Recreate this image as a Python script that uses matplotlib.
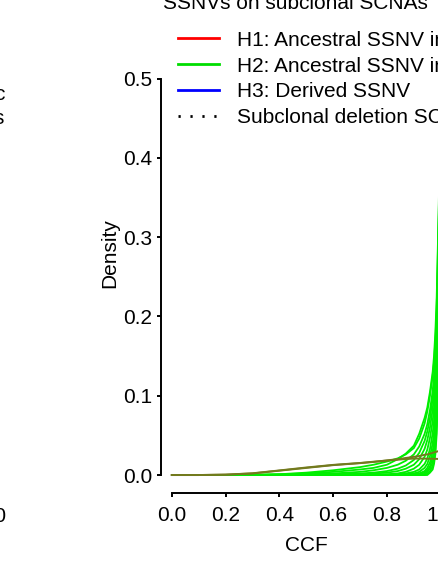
import matplotlib
matplotlib.use("Agg")
import matplotlib.pyplot as plt
from matplotlib.lines import Line2D

plt.rcParams['font.family'] = ['Liberation Sans', 'DejaVu Sans']

# ---------------- data ----------------
ccf = [0.0, 0.1, 0.2, 0.3, 0.4, 0.5, 0.6, 0.7, 0.75, 0.8, 0.84, 0.87, 0.9,
       0.92, 0.94, 0.95, 0.96, 0.97, 0.975, 0.98, 0.985, 0.99, 0.995, 1.0]

green_curves = [
    [0, 0, 0, 0.0005, 0.001, 0.002, 0.004, 0.007, 0.009, 0.013, 0.02, 0.027, 0.037,
     0.052, 0.072, 0.085, 0.105, 0.13, 0.15, 0.18, 0.225, 0.30, 0.38, 0.45],
    [0, 0, 0, 0, 0.001, 0.003, 0.006, 0.010, 0.013, 0.017, 0.021, 0.026, 0.034,
     0.046, 0.065, 0.08, 0.1, 0.125, 0.142, 0.17, 0.21, 0.29, 0.37, 0.44],
    [0, 0, 0, 0, 0.0005, 0.001, 0.002, 0.004, 0.006, 0.009, 0.013, 0.018, 0.026,
     0.036, 0.052, 0.064, 0.082, 0.106, 0.125, 0.152, 0.195, 0.275, 0.36, 0.44],
    [0, 0, 0, 0, 0, 0.0005, 0.001, 0.002, 0.003, 0.005, 0.008, 0.012, 0.019,
     0.028, 0.043, 0.055, 0.072, 0.096, 0.114, 0.142, 0.185, 0.265, 0.35, 0.43],
    [0, 0, 0, 0, 0, 0, 0.0005, 0.001, 0.002, 0.003, 0.005, 0.008, 0.013,
     0.02, 0.033, 0.044, 0.06, 0.083, 0.1, 0.127, 0.17, 0.25, 0.34, 0.43],
    [0, 0, 0, 0, 0, 0, 0, 0, 0.0005, 0.001, 0.002, 0.004, 0.008,
     0.013, 0.023, 0.032, 0.047, 0.068, 0.085, 0.112, 0.155, 0.235, 0.33, 0.42],
    [0, 0, 0, 0, 0, 0, 0, 0, 0, 0.0005, 0.001, 0.002, 0.004,
     0.007, 0.014, 0.021, 0.033, 0.053, 0.068, 0.093, 0.133, 0.215, 0.32, 0.42],
    [0, 0, 0, 0, 0, 0, 0, 0, 0, 0, 0.0005, 0.001, 0.002,
     0.004, 0.009, 0.014, 0.024, 0.04, 0.054, 0.077, 0.115, 0.195, 0.30, 0.41],
    [0, 0, 0, 0, 0, 0, 0, 0, 0, 0, 0, 0, 0.001,
     0.002, 0.005, 0.009, 0.016, 0.03, 0.042, 0.063, 0.1, 0.175, 0.29, 0.40],
    [0, 0, 0, 0, 0, 0, 0, 0, 0, 0, 0, 0, 0,
     0.001, 0.003, 0.006, 0.011, 0.022, 0.033, 0.051, 0.086, 0.158, 0.28, 0.40],
    [0, 0, 0, 0, 0, 0, 0, 0, 0, 0, 0, 0, 0,
     0, 0.0015, 0.004, 0.008, 0.016, 0.025, 0.042, 0.074, 0.143, 0.27, 0.39],
    [0, 0, 0, 0, 0, 0, 0, 0, 0, 0, 0, 0, 0,
     0, 0, 0.002, 0.005, 0.011, 0.019, 0.033, 0.062, 0.128, 0.26, 0.39],
    [0, 0, 0, 0, 0, 0, 0, 0, 0, 0, 0, 0, 0,
     0, 0, 0, 0.003, 0.007, 0.014, 0.026, 0.052, 0.115, 0.25, 0.38],
]

olive_curves = [
    [0, 0, 0.0005, 0.002, 0.0055, 0.009, 0.0125, 0.015, 0.0165, 0.0185, 0.02, 0.0215,
     0.023, 0.024, 0.0255, 0.026, 0.027, 0.028, 0.0285, 0.029, 0.0295, 0.030, 0.0305, 0.031],
    [0, 0, 0.0005, 0.0022, 0.0058, 0.0095, 0.0128, 0.0152, 0.0168, 0.0182, 0.0193, 0.0202,
     0.0207, 0.0208, 0.0207, 0.0206, 0.0206, 0.0205, 0.0205, 0.0204, 0.0204, 0.0203, 0.0203, 0.0203],
]

legend_labels = ["H1: Ancestral SSNV in deleted allele",
                 "H2: Ancestral SSNV in retained allele",
                 "H3: Derived SSNV",
                 "Subclonal deletion SCNA"]
legend_colors = ["#ff0000", "#00dd00", "#0000ff", "black"]

x_ticks = [0.0, 0.2, 0.4, 0.6, 0.8, 1.0]
x_tick_labels = ["0.0", "0.2", "0.4", "0.6", "0.8", "1.0"]
y_ticks = [0.0, 0.1, 0.2, 0.3, 0.4, 0.5]
y_tick_labels = ["0.0", "0.1", "0.2", "0.3", "0.4", "0.5"]

title = "SSNVs on subclonal SCNAs"

# ---------------- figure ----------------
W, H = 438, 569
fig = plt.figure(figsize=(W / 100, H / 100), dpi=100)
FS = 15

ax_bottom_px = 492.8
ax_top_px = 13.2
ax = fig.add_axes([161.0 / W, (H - ax_bottom_px) / H, 290.5 / W,
                   (ax_bottom_px - ax_top_px) / H])
ax.set_xlim(-0.04, 1.04)
ax.set_ylim(-0.0224, 0.5824)

for ys in green_curves:
    ax.plot(ccf, ys, color="#00ee00", lw=1.3, solid_capstyle="butt")
for ys in olive_curves:
    ax.plot(ccf, ys, color="#737a1e", lw=1.4)

for s in ["top", "right"]:
    ax.spines[s].set_visible(False)
ax.spines["left"].set_bounds(0, 0.5)
ax.spines["bottom"].set_bounds(0, 1.0)
for s in ["left", "bottom"]:
    ax.spines[s].set_linewidth(1.4)

ax.set_xticks(x_ticks)
ax.set_xticklabels(x_tick_labels)
ax.set_yticks(y_ticks)
ax.set_yticklabels(y_tick_labels)
ax.tick_params(axis="x", length=2.9, width=1.4, pad=6.4, labelsize=FS)
ax.tick_params(axis="y", length=2.9, width=1.4, pad=3.6, labelsize=FS)

ax.set_xlabel("CCF", fontsize=FS)
ax.xaxis.set_label_coords(0.5, -0.0897)
ax.set_ylabel("Density", fontsize=FS)
ax.yaxis.set_label_coords(-0.1446, 0.5)

fig.text(295 / W, (H - 9) / H, title, ha="center", va="baseline", fontsize=FS)

handles = [Line2D([], [], color=c, lw=2.0) for c in legend_colors[:3]]
handles.append(Line2D([], [], color="black", lw=2.0, linestyle=(0, (0.8, 3.5))))
leg = ax.legend(handles, legend_labels, loc="upper left",
                bbox_to_anchor=(178.3 / W, (H - 30.7) / H),
                bbox_transform=fig.transFigure, frameon=False,
                fontsize=FS, borderpad=0, borderaxespad=0,
                handlelength=1.97, handletextpad=0.85, labelspacing=0.33)

# fragments of the neighbouring panel (cut off at the left edge)
fig.text(4.5 / W, (H - 100) / H, "c", ha="right", va="baseline", fontsize=FS)
fig.text(4.0 / W, (H - 124) / H, "s", ha="right", va="baseline", fontsize=FS)
fig.text(6.5 / W, (H - 521.7) / H, "1.0", ha="right", va="baseline", fontsize=FS)

fig.savefig("out.png", dpi=100)
